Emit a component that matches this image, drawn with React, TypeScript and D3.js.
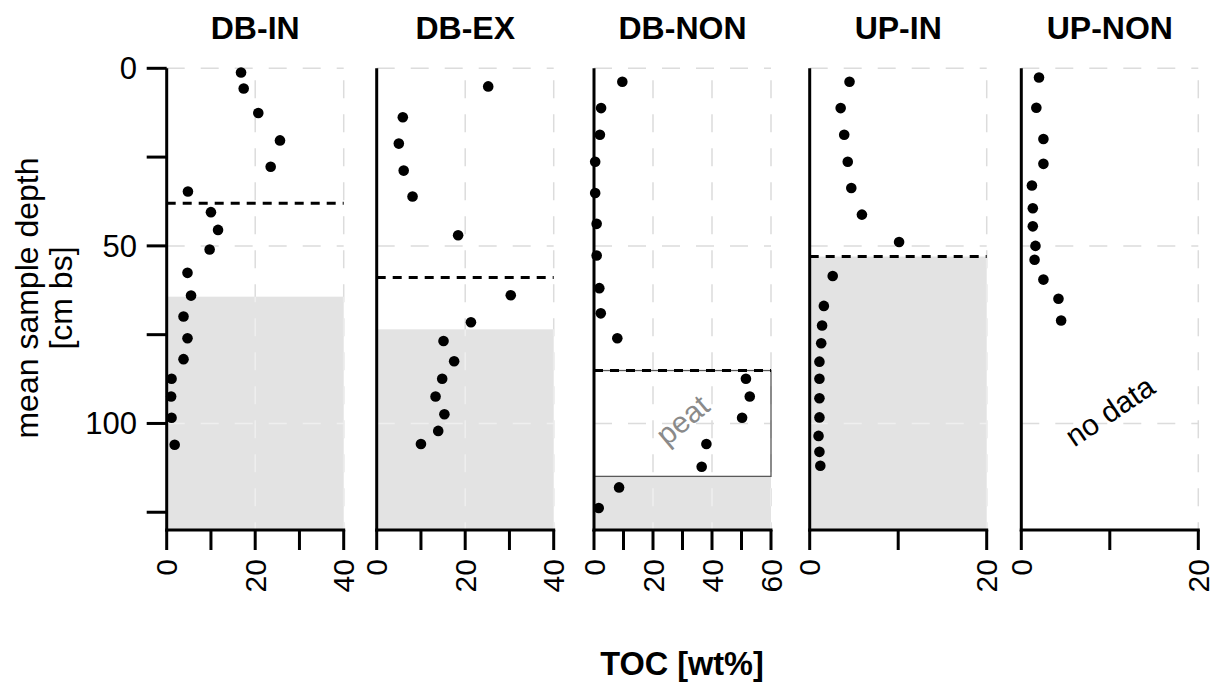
import React from 'react';
import * as d3 from 'd3';

// ---------- data ----------
const panelNames = ['DB-IN', 'DB-EX', 'DB-NON', 'UP-IN', 'UP-NON'];
const xMaxes = [40, 40, 60, 20, 20];
const xLabelTicks = [[0, 20, 40], [0, 20, 40], [0, 20, 40, 60], [0, 20], [0, 20]];

const dbInToc = [16.8, 17.4, 20.7, 25.6, 23.5, 4.8, 10.0, 11.6, 9.7, 4.7, 5.5, 3.8, 4.7, 3.8, 1.1, 1.0, 1.1, 1.8];
const dbInDepth = [1.2, 5.7, 12.6, 20.3, 27.7, 34.7, 40.5, 45.5, 51.0, 57.6, 64.0, 69.9, 76.0, 81.9, 87.4, 92.4, 98.4, 106.0];

const dbExToc = [25.2, 5.9, 5.0, 6.1, 8.1, 18.4, 30.3, 21.3, 15.1, 17.5, 14.8, 13.3, 15.3, 13.9, 10.0];
const dbExDepth = [5.1, 13.8, 21.2, 28.8, 36.1, 47.0, 63.9, 71.5, 76.8, 82.5, 87.4, 92.4, 97.4, 102.1, 105.8];

const dbNonToc = [9.6, 2.4, 2.0, 0.4, 0.4, 0.9, 0.9, 1.8, 2.3, 7.9, 51.5, 52.8, 50.2, 38.1, 36.5, 8.5, 1.6];
const dbNonDepth = [3.8, 11.2, 18.7, 26.3, 35.1, 43.8, 52.7, 61.9, 69.0, 76.0, 87.4, 92.4, 98.4, 105.8, 112.2, 118.0, 123.8];

const upInToc = [4.5, 3.5, 3.9, 4.3, 4.7, 5.9, 10.1, 2.6, 1.6, 1.4, 1.3, 1.1, 1.1, 1.1, 1.1, 1.0, 1.1, 1.2];
const upInDepth = [3.8, 11.2, 18.7, 26.3, 33.7, 41.2, 48.9, 58.5, 66.9, 72.4, 77.4, 82.6, 87.4, 92.9, 98.3, 103.5, 108.0, 111.9];

const upNonToc = [2.0, 1.7, 2.5, 2.5, 1.2, 1.3, 1.3, 1.6, 1.5, 2.5, 4.2, 4.5];
const upNonDepth = [2.6, 11.1, 19.9, 26.9, 33.0, 39.4, 44.5, 50.0, 53.9, 59.5, 64.9, 71.0];

const panelToc = [dbInToc, dbExToc, dbNonToc, upInToc, upNonToc];
const panelDepth = [dbInDepth, dbExDepth, dbNonDepth, upInDepth, upNonDepth];

const dashedDepth: (number | null)[] = [38.0, 58.9, 85.1, 53.0, null];
const grayTopDepth: (number | null)[] = [64.3, 73.5, 114.9, 53.0, null];
const peatRange = [85.1, 114.9];

const depthMax = 130;
const yTicks = [0, 25, 50, 75, 100, 125];
const yLabelTicks = [0, 50, 100];
const yGridTicks = [0, 50, 100];

// ---------- layout ----------
const W = 1211;
const H = 682;
const panelLefts = [166.7, 376.7, 594, 809.7, 1021.3];
const panelW = 177;
const plotTop = 68.3;
const plotBottom = 530;
const FONT = 'Liberation Sans, Arial, Helvetica, sans-serif';

const y = d3.scaleLinear().domain([0, depthMax]).range([plotTop, plotBottom]);

function Panel({ i }: { i: number }) {
  const left = panelLefts[i];
  const x = d3.scaleLinear().domain([0, xMaxes[i]]).range([left, left + panelW]);
  const xTicks = d3.range(0, xMaxes[i] + 0.001, 10);
  const vGrid = xLabelTicks[i].filter((t) => t > 0);
  const grayTop = grayTopDepth[i];
  const dashed = dashedDepth[i];
  const clipId = `gray-clip-${i}`;
  const grid = (color: string) => (
    <g stroke={color} strokeWidth={1.5} strokeDasharray="18,16" fill="none">
      {yGridTicks.map((t) => (
        <line key={'h' + t} x1={x(0)} x2={x(xMaxes[i])} y1={y(t)} y2={y(t)} />
      ))}
      {vGrid.map((t) => (
        <line key={'v' + t} x1={x(t)} x2={x(t)} y1={y(0)} y2={y(depthMax)} strokeDashoffset={-12} />
      ))}
    </g>
  );
  return (
    <g>
      {grid('#dcdcdc')}
      {grayTop !== null && (
        <>
          <defs>
            <clipPath id={clipId}>
              <rect x={x(0)} y={y(grayTop)} width={x(xMaxes[i]) - x(0)} height={y(depthMax) - y(grayTop)} />
            </clipPath>
          </defs>
          <rect x={x(0)} y={y(grayTop)} width={x(xMaxes[i]) - x(0)} height={y(depthMax) - y(grayTop)} fill="#e3e3e3" />
          <g clipPath={`url(#${clipId})`}>{grid('#efefef')}</g>
        </>
      )}
      {i === 2 && (
        <>
          <rect
            x={x(0)}
            y={y(peatRange[0])}
            width={x(xMaxes[i]) - x(0)}
            height={y(peatRange[1]) - y(peatRange[0])}
            fill="none"
            stroke="#5a5a5a"
            strokeWidth={1.3}
          />
          <text
            x={x(30)}
            y={y(99)}
            fontFamily={FONT}
            fontSize={30}
            fill="#8a8a8a"
            textAnchor="middle"
            dy="0.35em"
            transform={`rotate(-40, ${x(30)}, ${y(99)})`}
          >
            peat
          </text>
        </>
      )}
      {dashed !== null && (
        <line x1={x(0)} x2={x(xMaxes[i])} y1={y(dashed)} y2={y(dashed)} stroke="#000" strokeWidth={3} strokeDasharray="9,7" />
      )}
      {i === 4 && (
        <text
          x={x(10)}
          y={y(96.5)}
          fontFamily={FONT}
          fontSize={30}
          fill="#000"
          textAnchor="middle"
          dy="0.35em"
          transform={`rotate(-34, ${x(10)}, ${y(96.5)})`}
        >
          no data
        </text>
      )}
      {panelToc[i].map((v, k) => (
        <circle key={k} cx={x(v)} cy={y(panelDepth[i][k])} r={5.3} fill="#000" />
      ))}
      {/* axes */}
      <line x1={x(0)} x2={x(0)} y1={y(0)} y2={y(depthMax) + 1.5} stroke="#000" strokeWidth={3} />
      <line x1={x(0) - 1.5} x2={x(xMaxes[i]) + 1.5} y1={y(depthMax)} y2={y(depthMax)} stroke="#000" strokeWidth={3} />
      {xTicks.map((t) => (
        <line key={'xt' + t} x1={x(t)} x2={x(t)} y1={y(depthMax)} y2={y(depthMax) + 20} stroke="#000" strokeWidth={3} />
      ))}
      {xLabelTicks[i].map((t) => (
        <text
          key={'xl' + t}
          x={x(t)}
          y={559}
          fontFamily={FONT}
          fontSize={30}
          textAnchor="end"
          dy="0.35em"
          transform={`rotate(-90, ${x(t)}, 559)`}
        >
          {t}
        </text>
      ))}
      <text
        x={left + panelW / 2}
        y={39}
        fontFamily={FONT}
        fontSize={32}
        fontWeight="bold"
        textAnchor="middle"
      >
        {panelNames[i]}
      </text>
    </g>
  );
}

export default function App() {
  const x0 = panelLefts[0];
  return (
    <svg width={W} height={H} style={{ position: 'absolute', left: 0, top: 0, background: '#fff' }}>
      <rect x={0} y={0} width={W} height={H} fill="#fff" />
      {panelNames.map((_, i) => (
        <Panel key={i} i={i} />
      ))}
      {/* y axis ticks and labels on first panel */}
      {yTicks.map((t) => (
        <line key={'yt' + t} x1={x0 - 20} x2={x0} y1={y(t)} y2={y(t)} stroke="#000" strokeWidth={3} />
      ))}
      {yLabelTicks.map((t) => (
        <text key={'yl' + t} x={137} y={y(t)} dy="0.35em" fontFamily={FONT} fontSize={31} textAnchor="end">
          {t}
        </text>
      ))}
      <text
        x={38}
        y={298}
        fontFamily={FONT}
        fontSize={32}
        textAnchor="middle"
        transform="rotate(-90, 38, 298)"
      >
        mean sample depth
      </text>
      <text x={72} y={298} fontFamily={FONT} fontSize={32} textAnchor="middle" transform="rotate(-90, 72, 298)">
        [cm bs]
      </text>
      <text x={682} y={675} fontFamily={FONT} fontSize={32.5} fontWeight="bold" textAnchor="middle">
        TOC [wt%]
      </text>
    </svg>
  );
}
